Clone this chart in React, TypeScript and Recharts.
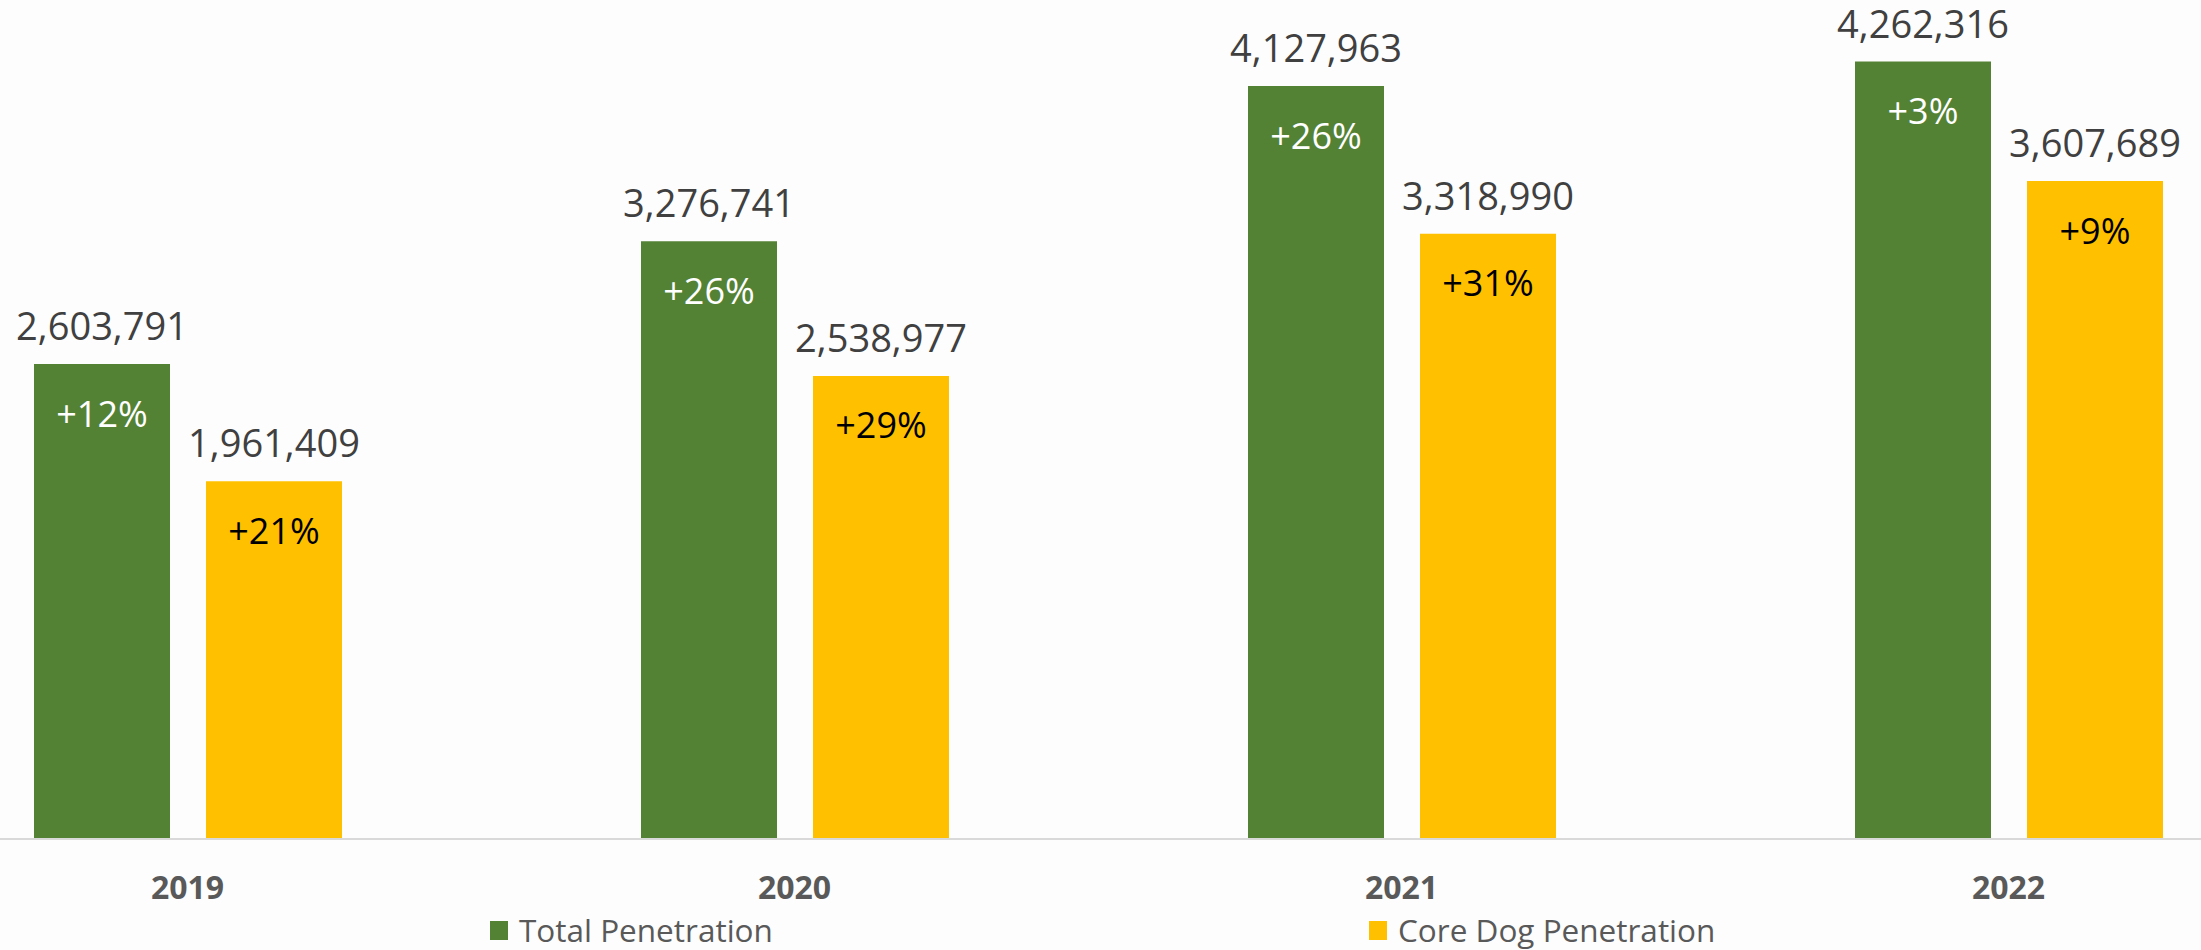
import { BarChart, Bar, XAxis, YAxis, Legend, LabelList } from 'recharts'

// values
const YEARS = ['2019', '2020', '2021', '2022']
const TOTAL = [2603791, 3276741, 4127963, 4262316]
const CORE = [1961409, 2538977, 3318990, 3607689]
const TOTAL_GROWTH = ['+12%', '+26%', '+26%', '+3%']
const CORE_GROWTH = ['+21%', '+29%', '+31%', '+9%']

const GREEN = '#548235'
const YELLOW = '#FFC000'
const FONT = '"Open Sans", "Noto Sans", sans-serif'

const data = YEARS.map((year, i) => ({
  year,
  total: TOTAL[i],
  core: CORE[i],
  totalGrowth: TOTAL_GROWTH[i],
  coreGrowth: CORE_GROWTH[i],
}))

const fmt = (v: unknown) => Number(v).toLocaleString('en-US')

// the plot runs past both edges of the picture, like the cropped original
const CHART_W = 2428
const SHIFT = -116
const LEGEND_X: Record<string, number> = { total: 606, core: 1485 }

function renderLegend(props: any) {
  const items = props.payload ?? []
  return (
    <div style={{ position: 'relative', width: CHART_W, height: 45 }}>
      {items.map((it: any) => (
        <div key={it.value} style={{
          position: 'absolute', left: LEGEND_X[it.dataKey] ?? 0, top: 8,
          display: 'flex', alignItems: 'center', height: 34,
        }}>
          <span style={{ width: 18, height: 19, background: it.color, marginRight: 11 }} />
          <span style={{ fontFamily: FONT, fontSize: 31.5, color: '#595959', lineHeight: 1 }}>{it.value}</span>
        </div>
      ))}
    </div>
  )
}

export default function App() {
  return (
    <div style={{
      position: 'absolute', left: 0, top: 0, width: 2201, height: 950,
      overflow: 'hidden', background: '#fdfdfd', fontFamily: FONT,
    }}>
      <div style={{ position: 'absolute', left: SHIFT, top: 0 }}>
        <BarChart
          width={CHART_W} height={950} data={data}
          margin={{ top: 0, right: 0, left: 0, bottom: 0 }}
          barGap={36}
        >
          <XAxis
            dataKey="year" height={66}
            axisLine={{ stroke: '#d9d9d9', strokeWidth: 2 }}
            tickLine={false} tickMargin={31}
            tick={{ fill: '#595959', fontSize: 32, fontWeight: 700, fontFamily: FONT }}
          />
          <YAxis hide domain={[0, 4600000]} />
          <Legend verticalAlign="bottom" height={45} content={renderLegend} />
          <Bar dataKey="total" name="Total Penetration" fill={GREEN} barSize={136} isAnimationActive={false}>
            <LabelList dataKey="total" position="top" offset={24} formatter={fmt}
              style={{ fill: '#404040', fontSize: 38, fontFamily: FONT }} />
            <LabelList dataKey="totalGrowth" position="insideTop" offset={37}
              style={{ fill: '#ffffff', fontSize: 36, fontFamily: FONT }} />
          </Bar>
          <Bar dataKey="core" name="Core Dog Penetration" fill={YELLOW} barSize={136} isAnimationActive={false}>
            <LabelList dataKey="core" position="top" offset={24} formatter={fmt}
              style={{ fill: '#404040', fontSize: 38, fontFamily: FONT }} />
            <LabelList dataKey="coreGrowth" position="insideTop" offset={37}
              style={{ fill: '#000000', fontSize: 36, fontFamily: FONT }} />
          </Bar>
        </BarChart>
      </div>
    </div>
  )
}
